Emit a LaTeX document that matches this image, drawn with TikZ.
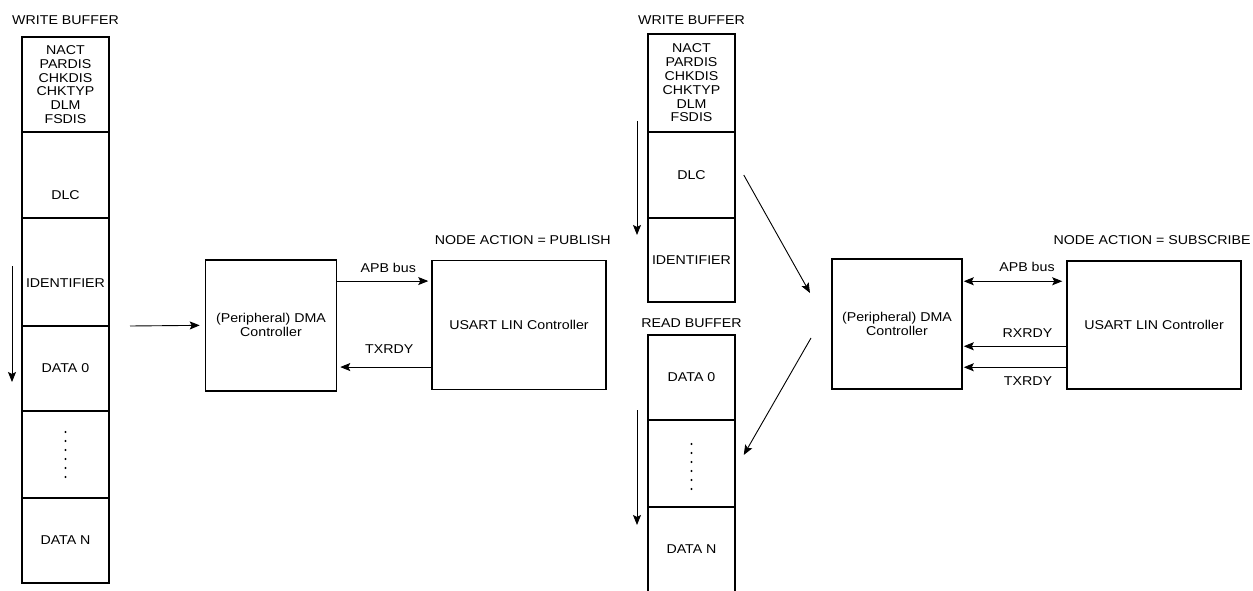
\documentclass[tikz,border=0pt]{standalone}
\usepackage{fontspec}
\setmainfont{Liberation Sans}[FakeStretch=1.11]
\usetikzlibrary{arrows.meta,positioning}
\tikzset{
  cell/.style={draw, line width=1.5pt, minimum width=87pt, inner sep=0pt, align=center, font=\fontsize{12.8}{13.8}\selectfont},
  ctrl/.style={draw, line width=1.5pt, inner sep=0pt, align=center, font=\fontsize{12.8}{13.8}\selectfont},
  bufcap/.style={inner sep=0pt, font=\fontsize{12.8}{13.8}\selectfont},
  sig/.style={anchor=base, inner sep=0pt, font=\fontsize{12.8}{13.8}\selectfont},
  flow/.style={line width=0.9pt},
  dotcol/.style={line width=2.4pt, line cap=round, dash pattern=on 0pt off 9pt}
}

\begin{document}
\begin{tikzpicture}[x=1pt, y=-1pt, >={Stealth[length=10pt, width=8pt, inset=2pt]}]
  \useasboundingbox (0,0) rectangle (1253,591);
  % publish side
  \node[bufcap, anchor=base] (lwlbl) at (65.5,24.5) {WRITE BUFFER};
  \node[cell, minimum height=95pt] (lw1) at (65.5,84.5) {NACT\\PARDIS\\CHKDIS\\CHKTYP\\DLM\\FSDIS};
  \node[cell, minimum height=86pt, label={[bufcap, yshift=-20pt]center:DLC}] (lw2) at (65.5,175) {};
  \node[cell, minimum height=108pt, label={[bufcap, yshift=-11pt]center:IDENTIFIER}] (lw3) at (65.5,272) {};
  \node[cell, minimum height=85pt] (lw4) at (65.5,368.5) {DATA 0};
  \node[cell, minimum height=87pt] (lw5) at (65.5,454.5) {};
  \node[cell, minimum height=85pt] (lw6) at (65.5,540.5) {DATA N};
  \draw[dotcol] ([yshift=22.5pt]lw5.center) -- ([yshift=-23pt]lw5.center);
  \coordinate (lsa) at (12,266);
  \coordinate (lsb) at (12,382);
  \draw[flow, ->] (lsa) -- (lsb);

  \node[ctrl, minimum width=131pt, minimum height=131pt] (ldma) at (271,325.3) {(Peripheral) DMA\\Controller};
  \node[ctrl, minimum width=174pt, minimum height=129pt] (lusart) at (519,325) {USART LIN Controller};
  \node[bufcap, anchor=base east] (lact) at ([xshift=4pt, yshift=15.5pt]lusart.north east) {NODE ACTION = PUBLISH};
  \coordinate (lin) at (130,326);
  \draw[flow, ->, shorten >=5pt] (lin) -- (ldma.west);
  \coordinate (lapb) at ([yshift=-22pt]ldma.north east);
  \draw[flow, ->, shorten >=3pt] (lapb) -- (lapb -| lusart.west)
    node[sig, midway, xshift=4pt, yshift=8.5pt] {APB bus};
  \coordinate (ltx) at ([yshift=-108pt]ldma.north east);
  \draw[flow, ->, shorten >=3pt] (ltx -| lusart.west) -- (ltx)
    node[sig, midway, xshift=5pt, yshift=13.5pt] {TXRDY};

  % subscribe side
  \node[bufcap, anchor=base] (rwlbl) at (691.5,24.5) {WRITE BUFFER};
  \node[cell, minimum height=98pt] (rw1) at (691.5,83) {NACT\\PARDIS\\CHKDIS\\CHKTYP\\DLM\\FSDIS};
  \node[cell, minimum height=86pt] (rw2) at (691.5,175) {DLC};
  \node[cell, minimum height=84pt] (rw3) at (691.5,260) {IDENTIFIER};
  \coordinate (rsa) at (637,121);
  \coordinate (rsb) at (637,235);
  \draw[flow, ->] (rsa) -- (rsb);

  \node[bufcap, anchor=base] (rrlbl) at (691.5,327.5) {READ BUFFER};
  \node[cell, minimum height=85pt] (rr1) at (691.5,377.5) {DATA 0};
  \node[cell, minimum height=87pt] (rr2) at (691.5,463.5) {};
  \node[cell, draw=none, outer sep=0pt, minimum height=84pt] (rr3) at (691.5,549) {DATA N};
  \draw[line width=1.5pt] (rr3.south west) -- (rr3.north west) -- (rr3.north east) -- (rr3.south east);
  \draw[dotcol] ([yshift=19.5pt]rr2.center) -- ([yshift=-26pt]rr2.center);
  \coordinate (rra) at (637,410);
  \coordinate (rrb) at (637,525);
  \draw[flow, ->] (rra) -- (rrb);

  \node[ctrl, minimum width=130pt, minimum height=130pt] (rdma) at (897,324) {(Peripheral) DMA\\Controller};
  \node[ctrl, minimum width=174pt, minimum height=128pt] (rusart) at (1154,325) {USART LIN Controller};
  \node[bufcap, anchor=base east] (ract) at ([xshift=9pt, yshift=15.5pt]rusart.north east) {NODE ACTION = SUBSCRIBE};
  \coordinate (rin) at (810,293);
  \coordinate (rout) at (811,338);
  \draw[flow, ->] ([xshift=8pt]rw2.east) -- (rin);
  \draw[flow, ->] (rout) -- ([xshift=8pt, yshift=8.5pt]rr2.east);
  \coordinate (rapb) at ([yshift=-23pt]rdma.north east);
  \draw[flow, <->, shorten >=4pt, shorten <=1pt] (rapb) -- (rapb -| rusart.west)
    node[sig, midway, xshift=12.5pt, yshift=9.5pt] {APB bus};
  \coordinate (rrx) at ([yshift=-88pt]rdma.north east);
  \draw[flow, ->, shorten >=1pt] (rrx -| rusart.west) -- (rrx)
    node[sig, midway, xshift=13pt, yshift=8.5pt] {RXRDY};
  \coordinate (rtx) at ([yshift=-109pt]rdma.north east);
  \draw[flow, ->, shorten >=1pt] (rtx -| rusart.west) -- (rtx)
    node[sig, midway, xshift=13.5pt, yshift=-18.5pt] {TXRDY};
\end{tikzpicture}
\end{document}
